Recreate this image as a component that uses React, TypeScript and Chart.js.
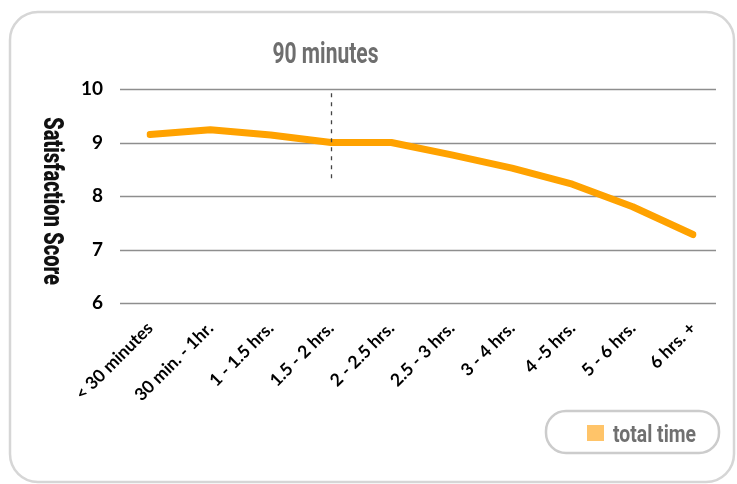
import React, { useEffect, useRef } from "react";
import { Chart, registerables } from "chart.js";

Chart.register(...registerables);

const categories = [
  "< 30 minutes",
  "30 min. - 1hr.",
  "1 - 1.5 hrs.",
  "1.5 - 2 hrs.",
  "2 - 2.5 hrs.",
  "2.5 - 3 hrs.",
  "3 - 4 hrs.",
  "4 -5 hrs.",
  "5 - 6 hrs.",
  "6 hrs. +",
];
const seriesName = "total time";
const satisfaction = [9.15, 9.24, 9.14, 9.0, 9.0, 8.77, 8.52, 8.22, 7.8, 7.28];
const yTicks = [6, 7, 8, 9, 10];
const yTitle = "Satisfaction Score";
const markerIndex = 3;
const markerTop = 9.92;
const markerBottom = 8.25;
const markerLabel = "90 minutes";

const COND = 'Roboto, "DejaVu Sans", sans-serif';
const TICKFONT = 'Lato, "Open Sans", sans-serif';

function roundRect(ctx: CanvasRenderingContext2D, x: number, y: number, w: number, h: number, r: number) {
  ctx.beginPath();
  ctx.moveTo(x + r, y);
  ctx.lineTo(x + w - r, y);
  ctx.arcTo(x + w, y, x + w, y + r, r);
  ctx.lineTo(x + w, y + h - r);
  ctx.arcTo(x + w, y + h, x + w - r, y + h, r);
  ctx.lineTo(x + r, y + h);
  ctx.arcTo(x, y + h, x, y + h - r, r);
  ctx.lineTo(x, y + r);
  ctx.arcTo(x, y, x + r, y, r);
  ctx.closePath();
}

// draw text squeezed horizontally so it spans `width` px, starting at x (left) on baseline y
function condensedText(ctx: CanvasRenderingContext2D, text: string, x: number, y: number, width: number) {
  const m = ctx.measureText(text).width;
  const s = width / m;
  ctx.save();
  ctx.translate(x, y);
  ctx.scale(s, 1);
  ctx.textAlign = "left";
  ctx.fillText(text, 0, 0);
  ctx.restore();
}

const decorPlugin = {
  id: "decor",
  beforeDraw(chart: any) {
    const ctx = chart.ctx as CanvasRenderingContext2D;
    ctx.save();
    ctx.fillStyle = "#ffffff";
    ctx.fillRect(0, 0, chart.width, chart.height);
    ctx.strokeStyle = "#d6d6d6";
    ctx.lineWidth = 2.5;
    roundRect(ctx, 10, 12, 724, 470, 28);
    ctx.stroke();
    ctx.restore();
  },
  beforeDatasetsDraw(chart: any) {
    const ctx = chart.ctx as CanvasRenderingContext2D;
    const ys = chart.scales.y;
    ctx.save();
    ctx.strokeStyle = "#8e8e8e";
    ctx.lineWidth = 1.6;
    for (const t of yTicks) {
      const y = Math.round(ys.getPixelForValue(t)) + 0.5;
      ctx.beginPath();
      ctx.moveTo(120, y);
      ctx.lineTo(716, y);
      ctx.stroke();
    }
    ctx.restore();
  },
  afterDatasetsDraw(chart: any) {
    const ctx = chart.ctx as CanvasRenderingContext2D;
    const xs = chart.scales.x;
    const ys = chart.scales.y;
    const x = Math.round(xs.getPixelForValue(markerIndex)) + 0.5;
    ctx.save();
    ctx.strokeStyle = "#444444";
    ctx.lineWidth = 1.3;
    ctx.setLineDash([4, 5]);
    ctx.beginPath();
    ctx.moveTo(x, ys.getPixelForValue(markerTop));
    ctx.lineTo(x, ys.getPixelForValue(markerBottom));
    ctx.stroke();
    ctx.setLineDash([]);
    ctx.fillStyle = "#6e6e6e";
    ctx.font = `bold 29px ${COND}`;
    ctx.textBaseline = "alphabetic";
    condensedText(ctx, markerLabel, x - 59, 63, 106);
    ctx.restore();
  },
  afterDraw(chart: any) {
    const ctx = chart.ctx as CanvasRenderingContext2D;
    ctx.save();
    // y-axis title, reading top to bottom
    ctx.translate(51, 117);
    ctx.rotate(Math.PI / 2);
    ctx.fillStyle = "#111111";
    ctx.font = `900 28px ${COND}`;
    ctx.textBaseline = "middle";
    condensedText(ctx, yTitle, 0, 0, 168);
    ctx.restore();

    // legend box
    ctx.save();
    ctx.strokeStyle = "#cccccc";
    ctx.lineWidth = 2.5;
    ctx.fillStyle = "#ffffff";
    roundRect(ctx, 546, 411, 173, 42, 20);
    ctx.fill();
    ctx.stroke();
    ctx.fillStyle = "#FFC469";
    ctx.fillRect(587, 425, 17, 16);
    ctx.fillStyle = "#707070";
    ctx.font = `bold 23px ${COND}`;
    ctx.textBaseline = "alphabetic";
    condensedText(ctx, seriesName, 613, 442, 83);
    ctx.restore();
  },
};

export default function App() {
  const ref = useRef<HTMLCanvasElement | null>(null);
  useEffect(() => {
    if (!ref.current) return;
    const chart = new Chart(ref.current, {
      type: "line",
      data: {
        labels: categories,
        datasets: [
          {
            label: seriesName,
            data: satisfaction,
            borderColor: "#FFA200",
            backgroundColor: "#FFC469",
            borderWidth: 7,
            borderCapStyle: "round",
            borderJoinStyle: "round",
            pointRadius: 0,
            tension: 0,
          },
        ],
      },
      options: {
        responsive: false,
        animation: false,
        layout: { padding: { top: 89, right: 44, left: 0, bottom: 0 } },
        plugins: {
          legend: { display: false },
          title: { display: false },
          tooltip: { enabled: false },
        },
        scales: {
          x: {
            type: "category",
            offset: false,
            grid: { display: false },
            border: { display: false },
            ticks: {
              autoSkip: false,
              maxRotation: 45,
              minRotation: 45,
              color: "#000000",
              font: { family: TICKFONT, weight: "bold", size: 17.5 },
              padding: 7,
            },
            afterFit: (s: any) => {
              s.height = 181;
            },
          },
          y: {
            min: 6,
            max: 10,
            afterBuildTicks: (s: any) => {
              s.ticks = yTicks.map((v) => ({ value: v }));
            },
            grid: { display: false, drawTicks: false },
            border: { display: false },
            ticks: {
              color: "#000000",
              font: { family: TICKFONT, weight: "bold", size: 19 },
              padding: 47,
            },
            afterFit: (s: any) => {
              s.width = 150;
            },
          },
        },
      },
      plugins: [decorPlugin],
    } as any);
    return () => chart.destroy();
  }, []);
  return (
    <div style={{ position: "fixed", left: 0, top: 0, width: 737, height: 484, background: "#fff" }}>
      <canvas ref={ref} width={737} height={484} style={{ display: "block" }} />
    </div>
  );
}
